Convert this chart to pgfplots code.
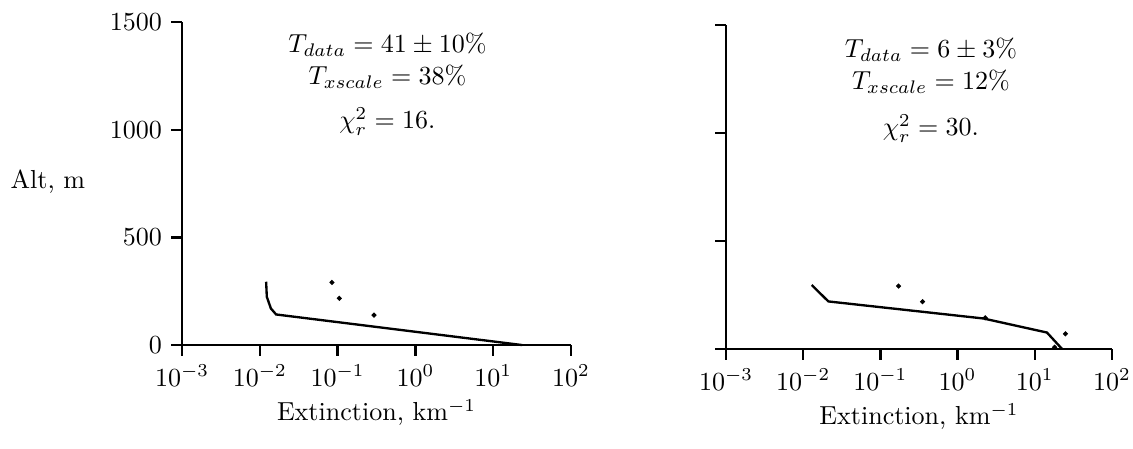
\documentclass[border=0pt]{standalone}
\usepackage{pgfplots}
\pgfplotsset{compat=1.18}
\pgfkeys{/pgf/number format/1000 sep={}}
\begin{document}
\begin{tikzpicture}
\useasboundingbox (-69.9pt,-39.6pt) rectangle (365.2pt,132.5pt);
% left panel
\begin{axis}[
    scale only axis, anchor=south west, at={(0pt,0pt)},
    width=149.4pt, height=124pt,
    xmode=log, log basis x=10,
    xmin=1e-3, xmax=1e2, ymin=0, ymax=1500,
    axis lines*=left,
    axis line style={line width=0.9pt},
    tick style={line width=0.9pt, black},
    tick align=outside, major tick length=4.2pt,
    xtick={1e-3,1e-2,1e-1,1,10,100},
    ytick={0,500,1000,1500},
    yticklabel style={/pgf/number format/1000 sep={}},
    minor xtick={}, minor ytick={},
    xlabel={Extinction, km$^{-1}$},
    xlabel style={at={(rel axis cs:0.5,0)}, anchor=center, yshift=-26pt},
    clip=false,
]
\addplot[black, line width=0.9pt, no marks] coordinates {
  (0.01205,294) (0.0123,224) (0.01387,170) (0.0162,142) (23.5,0)
};
\addplot[black, only marks, mark=*, mark size=0.75pt] coordinates {
  (0.0845,291) (0.105,217) (0.293,139)
};
\node at (rel axis cs:0.528,0.929) {$T_{data} = 41 \pm 10\%$};
\node at (rel axis cs:0.528,0.831) {$T_{xscale} = 38\%$};
\node at (rel axis cs:0.528,0.692) {$\chi^2_r = 16.$};
\node at (rel axis cs:0,0.505) [xshift=-51.5pt] {Alt, m};
\end{axis}
% right panel
\begin{axis}[
    scale only axis, anchor=south west, at={(208.9pt,-1.5pt)},
    width=148.2pt, height=124.4pt,
    xmode=log, log basis x=10,
    xmin=1e-3, xmax=1e2, ymin=0, ymax=1500,
    axis lines*=left,
    axis line style={line width=0.9pt},
    tick style={line width=0.9pt, black},
    tick align=outside, major tick length=4.2pt,
    xtick={1e-3,1e-2,1e-1,1,10,100},
    ytick={0,500,1000,1500}, yticklabels={},
    minor xtick={}, minor ytick={},
    xlabel={Extinction, km$^{-1}$},
    xlabel style={at={(rel axis cs:0.5,0)}, anchor=center, yshift=-26pt},
    clip=false,
]
\addplot[black, line width=0.9pt, no marks] coordinates {
  (0.0129,296) (0.0212,220) (2.17,141) (14.4,76) (22.6,0)
};
\addplot[black, only marks, mark=*, mark size=0.75pt] coordinates {
  (0.172,291) (0.352,219) (2.28,144) (25,70) (18.1,8)
};
\node at (rel axis cs:0.531,0.923) {$T_{data} = 6 \pm 3\%$};
\node at (rel axis cs:0.531,0.825) {$T_{xscale} = 12\%$};
\node at (rel axis cs:0.531,0.681) {$\chi^2_r = 30.$};
\end{axis}
\end{tikzpicture}
\end{document}
